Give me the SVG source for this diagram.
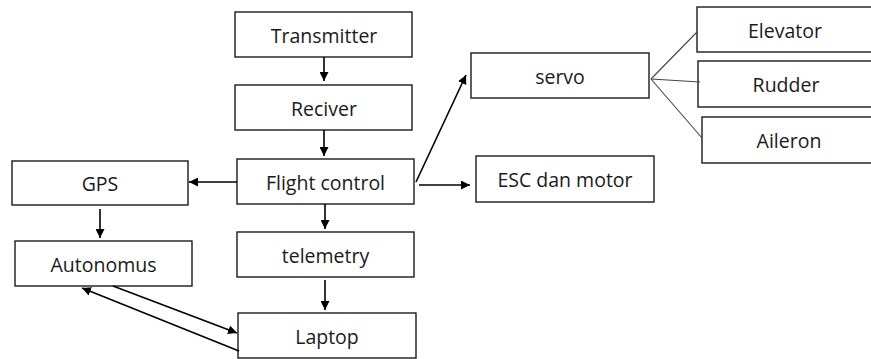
<svg xmlns="http://www.w3.org/2000/svg" width="871" height="359" viewBox="0 0 871 359">
  <style>
    .box { fill: #ffffff; stroke: #1a1a1a; stroke-width: 1.4; }
    .lbl { font-family: "Open Sans", "Liberation Sans", sans-serif; font-size: 19.5px; fill: #1a1a1a; text-anchor: middle; dominant-baseline: central; }
    .edge { stroke: #000000; stroke-width: 1.6; fill: none; }
    .arrow { marker-end: url(#head); }
    .thin { stroke: #444444; stroke-width: 1.1; fill: none; }
  </style>
  <defs>
    <marker id="head" viewBox="0 0 10 10" refX="10" refY="5" markerWidth="9" markerHeight="9" markerUnits="userSpaceOnUse" orient="auto">
      <path d="M0,0 L10,5 L0,10 z" fill="#000000"/>
    </marker>
  </defs>

  <rect width="871" height="359" fill="#ffffff"/>

  <g id="transmitter"><rect class="box" x="235" y="12" width="177" height="45"/><text class="lbl" x="324" y="35">Transmitter</text></g>
  <g id="reciver"><rect class="box" x="235" y="85" width="177" height="45"/><text class="lbl" x="324" y="108">Reciver</text></g>
  <g id="flight-control"><rect class="box" x="237" y="159" width="177" height="45"/><text class="lbl" x="325.5" y="182">Flight control</text></g>
  <g id="gps"><rect class="box" x="12" y="161" width="176" height="44"/><text class="lbl" x="100" y="183">GPS</text></g>
  <g id="autonomus"><rect class="box" x="15" y="241" width="177" height="45"/><text class="lbl" x="103.5" y="264">Autonomus</text></g>
  <g id="telemetry"><rect class="box" x="237" y="232" width="177" height="45"/><text class="lbl" x="325.5" y="255">telemetry</text></g>
  <g id="laptop"><rect class="box" x="238" y="313" width="178" height="45"/><text class="lbl" x="327" y="336">Laptop</text></g>
  <g id="servo"><rect class="box" x="471" y="53" width="178" height="45"/><text class="lbl" x="560" y="76">servo</text></g>
  <g id="esc-dan-motor"><rect class="box" x="476" y="156" width="178" height="46"/><text class="lbl" x="565" y="179">ESC dan motor</text></g>
  <g id="elevator"><rect class="box" x="697" y="7" width="190" height="45"/><text class="lbl" x="785" y="30">Elevator</text></g>
  <g id="rudder"><rect class="box" x="698" y="61" width="190" height="46"/><text class="lbl" x="786" y="84">Rudder</text></g>
  <g id="aileron"><rect class="box" x="702" y="117" width="190" height="46"/><text class="lbl" x="789" y="140">Aileron</text></g>

  <g id="connectors">
    <line class="edge arrow" x1="324" y1="57" x2="324" y2="81"/>
    <line class="edge arrow" x1="324" y1="130" x2="324" y2="156"/>
    <line class="edge arrow" x1="237" y1="182" x2="189" y2="182"/>
    <line class="edge arrow" x1="416" y1="182" x2="466" y2="75"/>
    <line class="edge arrow" x1="419" y1="185" x2="470" y2="185"/>
    <line class="edge arrow" x1="325" y1="204" x2="325" y2="229"/>
    <line class="edge arrow" x1="325" y1="280" x2="325" y2="310"/>
    <line class="edge arrow" x1="100" y1="209" x2="100" y2="238"/>
    <line class="edge arrow" x1="113" y1="286" x2="237" y2="333"/>
    <line class="edge arrow" x1="239" y1="351" x2="82" y2="288"/>
    <line class="thin" x1="651" y1="79" x2="697" y2="32"/>
    <line class="thin" x1="651" y1="79" x2="700" y2="82"/>
    <line class="thin" x1="651" y1="79" x2="702" y2="138"/>
  </g>
</svg>
